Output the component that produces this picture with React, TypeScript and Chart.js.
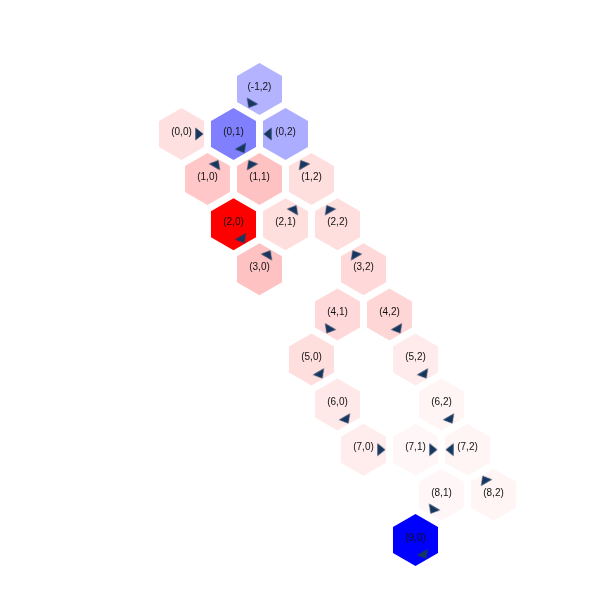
import React, { useEffect, useRef } from 'react';
import { Chart, registerables } from 'chart.js';

Chart.register(...registerables);

// Hex cells: (row, col) of each cell
const ROWS = [-1, 0, 0, 0, 1, 1, 1, 2, 2, 2, 3, 3, 4, 4, 5, 5, 6, 6, 7, 7, 7, 8, 8, 9];
const COLS = [2, 0, 1, 2, 0, 1, 2, 0, 1, 2, 0, 2, 1, 2, 0, 2, 0, 2, 0, 1, 2, 1, 2, 0];
// Cell values (diverging: negative = blue, positive = red)
const VALUES = [
  -0.3, 0.12, -0.5, -0.32,
  0.22, 0.24, 0.13,
  1.0, 0.13, 0.13,
  0.24, 0.15,
  0.15, 0.16,
  0.13, 0.08,
  0.09, 0.04,
  0.07, 0.03, 0.04,
  0.03, 0.04,
  -1.0,
];
// Policy direction for each cell
const POLICY = [
  'SW', 'E', 'SE', 'W',
  'NE', 'NW', 'NW',
  'SE', 'NE', 'NW',
  'NE', 'NW',
  'SW', 'SE',
  'SE', 'SE',
  'SE', 'SE',
  'E', 'E', 'W',
  'SW', 'NW',
  'SE',
];

// neighbour steps (drow, dcol) and screen angle (deg, clockwise from east)
const DIRS: Record<string, { dr: number; dc: number; angle: number }> = {
  E: { dr: 0, dc: 1, angle: 0 },
  SE: { dr: 1, dc: 0, angle: 60 },
  SW: { dr: 1, dc: -1, angle: 120 },
  W: { dr: 0, dc: -1, angle: 180 },
  NW: { dr: -1, dc: 0, angle: 240 },
  NE: { dr: -1, dc: 1, angle: 300 },
};

const ARROW_COLOR = '#17375e';
const ARROW_FRACTION = 0.32;

function colorFor(v: number): string {
  if (v >= 0) {
    const c = Math.round(255 * (1 - v));
    return `rgb(255,${c},${c})`;
  }
  const c = Math.round(255 * (1 + v));
  return `rgb(${c},${c},255)`;
}

const hexPlugin = {
  id: 'hexcells',
  beforeDatasetsDraw(chart: any) {
    const { ctx, scales } = chart;
    const xs = scales.x;
    const ys = scales.y;
    const r = Math.abs(xs.getPixelForValue(0.5) - xs.getPixelForValue(0));
    ctx.save();
    for (let i = 0; i < ROWS.length; i++) {
      const px = xs.getPixelForValue(COLS[i] + ROWS[i] / 2);
      const py = ys.getPixelForValue(ROWS[i]);
      ctx.beginPath();
      for (let k = 0; k < 6; k++) {
        const a = ((-90 + 60 * k) * Math.PI) / 180;
        const vx = px + r * Math.cos(a);
        const vy = py + r * Math.sin(a);
        if (k === 0) ctx.moveTo(vx, vy);
        else ctx.lineTo(vx, vy);
      }
      ctx.closePath();
      ctx.fillStyle = colorFor(VALUES[i]);
      ctx.fill();
    }
    ctx.font = '10px "Liberation Sans", Arial, sans-serif';
    ctx.fillStyle = '#111';
    ctx.textAlign = 'center';
    ctx.textBaseline = 'middle';
    for (let i = 0; i < ROWS.length; i++) {
      const px = xs.getPixelForValue(COLS[i] + ROWS[i] / 2);
      const py = ys.getPixelForValue(ROWS[i]);
      ctx.fillText(`(${ROWS[i]},${COLS[i]})`, px, py - 2);
    }
    ctx.restore();
  },
};

export default function App() {
  const ref = useRef<HTMLCanvasElement>(null);

  useEffect(() => {
    document.body.style.margin = '0';
    const canvas = ref.current;
    if (!canvas) return;

    const arrow = document.createElement('canvas');
    arrow.width = 16;
    arrow.height = 16;
    const g = arrow.getContext('2d')!;
    g.fillStyle = ARROW_COLOR;
    g.beginPath();
    g.moveTo(8, 8 - 5.33);
    g.lineTo(8 + 6.5, 8 + 2.67);
    g.lineTo(8 - 6.5, 8 + 2.67);
    g.closePath();
    g.fill();

    const points = ROWS.map((row, i) => {
      const d = DIRS[POLICY[i]];
      const cx = COLS[i] + row / 2;
      return {
        x: cx + ARROW_FRACTION * (d.dc + d.dr / 2),
        y: row + ARROW_FRACTION * d.dr,
      };
    });
    const rotations = POLICY.map((p) => 90 + DIRS[p].angle);

    const chart = new Chart(canvas, {
      type: 'scatter',
      data: {
        datasets: [
          {
            data: points,
            pointStyle: arrow as any,
            rotation: rotations,
            pointRadius: 6,
            backgroundColor: ARROW_COLOR,
          },
        ],
      },
      options: {
        responsive: false,
        animation: false,
        layout: { padding: 0, autoPadding: false },
        plugins: { legend: { display: false }, tooltip: { enabled: false } },
        scales: {
          x: { type: 'linear', min: -3.49, max: 8.048, display: false },
          y: { type: 'linear', min: -2.971, max: 10.333, reverse: true, display: false },
        },
      },
      plugins: [hexPlugin],
    });
    return () => chart.destroy();
  }, []);

  return (
    <div style={{ width: 600, height: 600, background: '#fff' }}>
      <canvas ref={ref} width={600} height={600} />
    </div>
  );
}
